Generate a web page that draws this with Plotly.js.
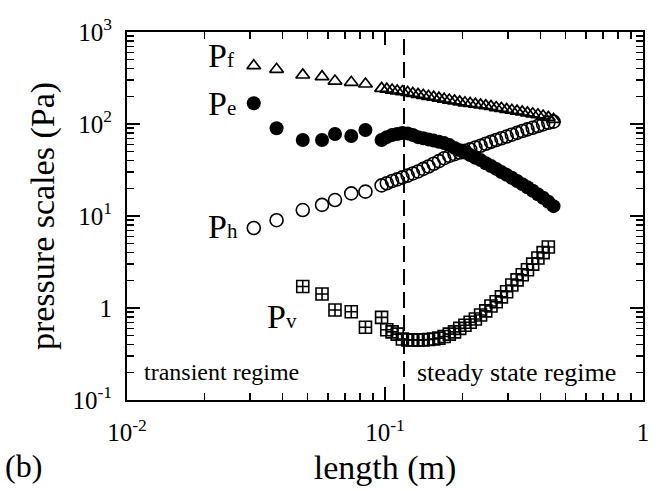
<!DOCTYPE html>
<html>
<head>
<meta charset="utf-8">
<script src="https://cdn.plot.ly/plotly-3.0.1.min.js"></script>
<style>html,body{margin:0;padding:0;background:#fff;}#chart{width:665px;height:491px;}</style>
</head>
<body>
<div id="chart"></div>
<script>
// ---- data ----
var lengthTransient = [0.031, 0.038, 0.048, 0.057, 0.064, 0.074, 0.084];
var lengthSteady = [0.097, 0.1016, 0.1065, 0.1115, 0.1168, 0.1224, 0.1282, 0.1343, 0.1407, 0.1474,
  0.1544, 0.1618, 0.1695, 0.1775, 0.186, 0.1948, 0.2041, 0.2138, 0.224, 0.2347,
  0.2458, 0.2575, 0.2698, 0.2826, 0.2961, 0.3102, 0.325, 0.3404, 0.3566, 0.3736,
  0.3914, 0.41, 0.4296, 0.45];

var PfTransient = [430, 393, 341, 327, 293, 284, 272];
var PfSteady = [244, 239, 234, 229, 225, 220, 215, 210, 205, 200,
  196, 191, 186, 182, 178, 174, 170, 167, 164, 161,
  158, 155, 151, 148, 144, 141, 138, 135, 132, 129,
  126, 122, 118, 112];

var PeTransient = [168, 90, 67, 67, 78, 74, 86];
var PeSteady = [67, 72, 76, 78, 80, 79, 76, 72, 70, 68,
  66, 64, 62, 59, 55, 52, 49, 46, 43, 40.5,
  37.5, 35, 32.5, 30, 28, 26, 24, 22.2, 20.5, 18.8,
  17.2, 15.8, 14.3, 12.8];

var PhTransient = [7.4, 9.0, 11.6, 13.2, 14.9, 17.6, 18.4];
var PhSteady = [21.5, 22.7, 24, 25, 26.3, 27.5, 29, 30.5, 32.5, 34.5,
  37, 39.5, 42.5, 45, 47, 49, 51, 53, 55.5, 58,
  61, 64, 67, 70, 73, 76.5, 80, 84, 87.5, 91,
  95, 99, 103, 106];

var lengthTransientV = [0.048, 0.057, 0.064, 0.074, 0.084];
var PvTransient = [1.71, 1.42, 0.95, 0.91, 0.617];
var lengthSteadyV = [0.097, 0.1016, 0.1065, 0.1115, 0.1168, 0.1224, 0.1282, 0.1343, 0.1407, 0.1474,
  0.1544, 0.1618, 0.1695, 0.1775, 0.186, 0.1948, 0.2041, 0.2138, 0.224, 0.2347,
  0.2458, 0.2575, 0.2698, 0.2826, 0.2961, 0.3102, 0.325, 0.3404, 0.3566, 0.3736,
  0.3914, 0.41, 0.4296];
var PvSteady = [0.79, 0.58, 0.55, 0.52, 0.46, 0.45, 0.45, 0.45, 0.45, 0.455,
  0.46, 0.47, 0.49, 0.52, 0.55, 0.6, 0.65, 0.7, 0.76, 0.84,
  0.93, 1.05, 1.17, 1.32, 1.5, 1.78, 2.02, 2.3, 2.6, 3.0,
  3.5, 4.0, 4.6];

var regimeBoundary = 0.1185;
var yRange = [0.1, 1000];

var xTickVals = [0.01, 0.1, 1];
var xTickText = ['10<sup>-2</sup>', '10<sup>-1</sup>', '1'];
var yTickVals = [0.1, 1, 10, 100, 1000];
var yTickText = ['10<sup>-1</sup>', '1', '10<sup>1</sup>', '10<sup>2</sup>', '10<sup>3</sup>'];
var xMinor = [0.02,0.03,0.04,0.05,0.06,0.07,0.08,0.09,0.2,0.3,0.4,0.5,0.6,0.7,0.8,0.9];
var yMinor = [0.2,0.3,0.4,0.5,0.6,0.7,0.8,0.9,2,3,4,5,6,7,8,9,20,30,40,50,60,70,80,90,200,300,400,500,600,700,800,900];

var seriesLabels = ['P<span style="font-size:21px">f</span>', 'P<span style="font-size:21px">e</span>',
                    'P<span style="font-size:21px">h</span>', 'P<span style="font-size:21px">v</span>'];
var regimeLabels = ['transient regime', 'steady state regime'];

// ---- plot ----
var FONT = 'Liberation Serif, Times New Roman, serif';
var traces = [
  {x: [regimeBoundary, regimeBoundary], y: yRange, mode: 'lines', line: {color: '#000', width: 2, dash: '16px,7px'}, hoverinfo: 'skip'},
  {x: lengthTransientV.concat(lengthSteadyV), y: PvTransient.concat(PvSteady), mode: 'markers',
   marker: {symbol: 'square-cross-open', size: 12, color: '#000', line: {width: 1.6, color: '#000'}}},
  {x: lengthTransient.concat(lengthSteady), y: PhTransient.concat(PhSteady), mode: 'markers',
   marker: {symbol: 'circle-open', size: 13, color: '#000', line: {width: 1.6, color: '#000'}}},
  {x: lengthTransient.concat(lengthSteady), y: PfTransient.concat(PfSteady), mode: 'markers',
   marker: {symbol: 'triangle-up-open', size: 12, color: '#000', line: {width: 1.7, color: '#000'}}},
  {x: lengthTransient.concat(lengthSteady), y: PeTransient.concat(PeSteady), mode: 'markers',
   marker: {symbol: 'circle', size: 14, color: '#000', line: {width: 0}}}
];

function ann(text, px, py, size, xanchor) {
  return {text: text, xref: 'paper', yref: 'paper', x: (px - 127) / 516, y: (400 - py) / 368,
          xanchor: xanchor || 'left', yanchor: 'middle', showarrow: false,
          font: {family: FONT, size: size, color: '#000'}};
}

var layout = {
  width: 665, height: 491,
  margin: {l: 127, r: 22, t: 32, b: 91, pad: 0},
  paper_bgcolor: '#fff', plot_bgcolor: '#fff',
  showlegend: false,
  font: {family: FONT, color: '#000', size: 25},
  xaxis: {
    type: 'log', range: [-2, 0], tickmode: 'array', tickvals: xTickVals, ticktext: xTickText,
    ticks: 'inside', ticklen: 13, tickwidth: 1.5, tickcolor: '#000',
    showline: true, linewidth: 2, linecolor: '#000', mirror: 'ticks',
    showgrid: false, zeroline: false, ticklabelstandoff: 9,
    tickfont: {family: FONT, size: 25, color: '#000'},
    minor: {tickmode: 'array', tickvals: xMinor, ticks: 'inside', ticklen: 7, tickwidth: 1.5, tickcolor: '#000', showgrid: false},
    title: {text: 'length (m)', font: {family: FONT, size: 34, color: '#000'}, standoff: 10}
  },
  yaxis: {
    type: 'log', range: [-1, 3], tickmode: 'array', tickvals: yTickVals, ticktext: yTickText,
    ticks: 'inside', ticklen: 13, tickwidth: 1.5, tickcolor: '#000',
    showline: true, linewidth: 2, linecolor: '#000', mirror: 'ticks',
    showgrid: false, zeroline: false, ticklabelstandoff: 8,
    tickfont: {family: FONT, size: 25, color: '#000'},
    minor: {tickmode: 'array', tickvals: yMinor, ticks: 'inside', ticklen: 7, tickwidth: 1.5, tickcolor: '#000', showgrid: false},
    title: {text: 'pressure scales (Pa)', font: {family: FONT, size: 34, color: '#000'}, standoff: 8}
  },
  annotations: [
    ann(seriesLabels[0], 206, 56, 34),
    ann(seriesLabels[1], 206, 103, 34),
    ann(seriesLabels[2], 206, 226, 34),
    ann(seriesLabels[3], 265, 316, 34),
    ann(regimeLabels[0], 142, 372, 24),
    ann(regimeLabels[1], 415, 372, 26),
    {text: '(b)', xref: 'paper', yref: 'paper', x: -124/516, y: (400 - 466) / 368, xanchor: 'left', yanchor: 'middle',
     showarrow: false, font: {family: FONT, size: 32, color: '#000'}}
  ]
};

Plotly.newPlot('chart', traces, layout, {displayModeBar: false, staticPlot: true});
</script>
</body>
</html>
